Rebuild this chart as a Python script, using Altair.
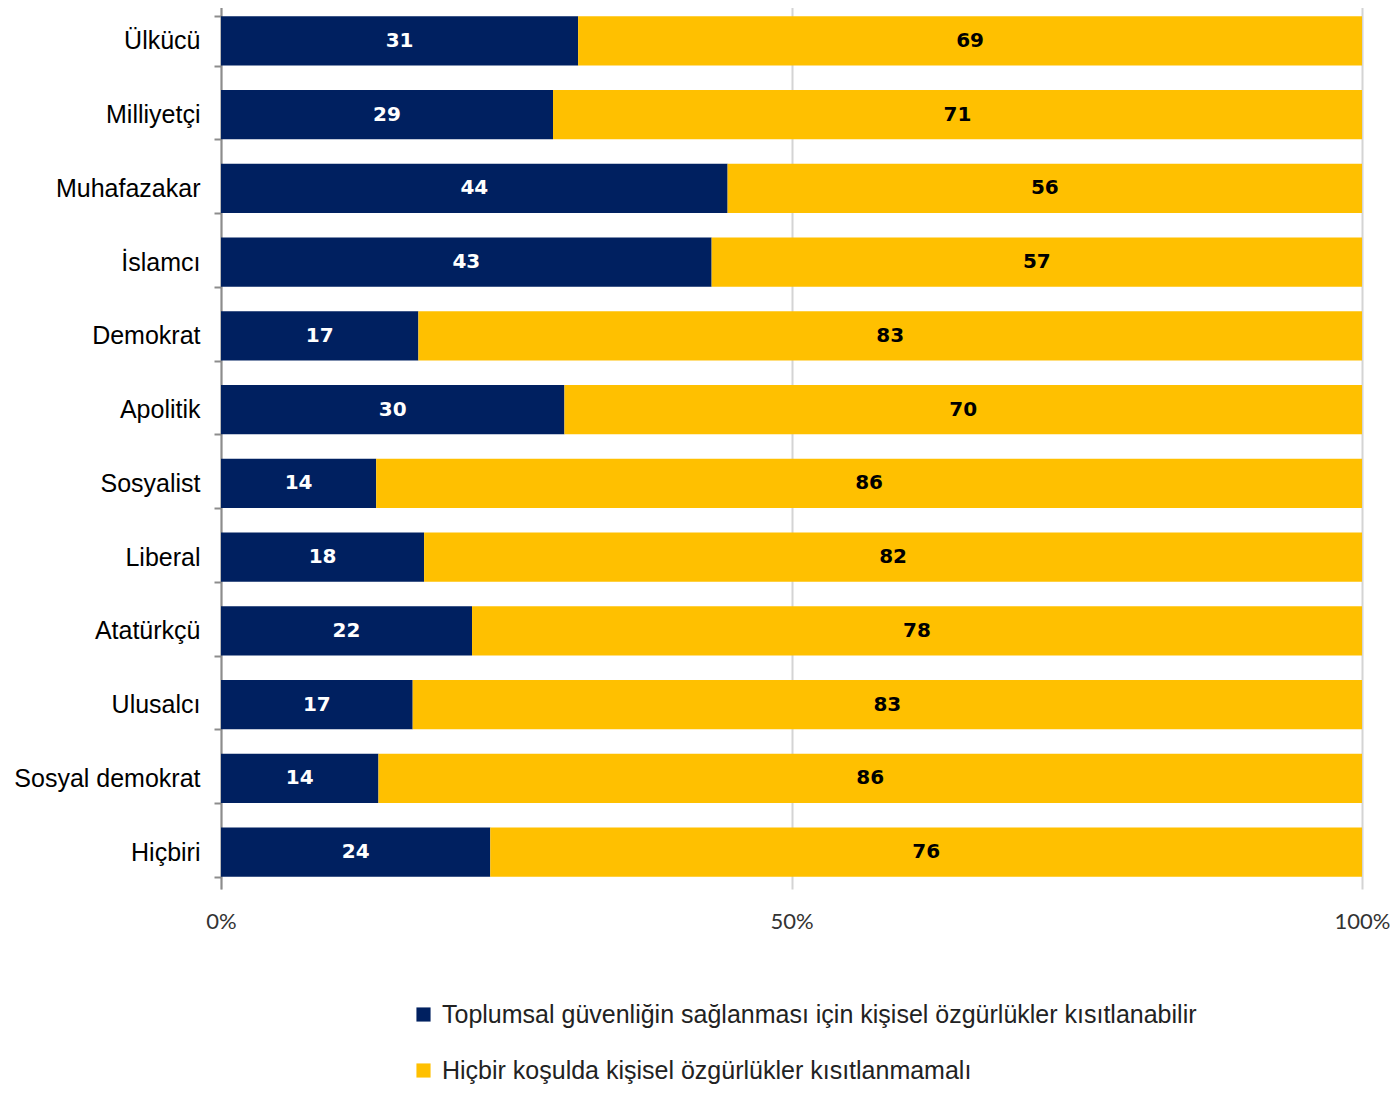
import altair as alt
import pandas as pd

categories = ["Ülkücü", "Milliyetçi", "Muhafazakar", "İslamcı", "Demokrat", "Apolitik",
              "Sosyalist", "Liberal", "Atatürkçü", "Ulusalcı", "Sosyal demokrat", "Hiçbiri"]
share_restrict = [31.3, 29.1, 44.4, 43.0, 17.3, 30.1, 13.6, 17.8, 22.0, 16.8, 13.8, 23.6]
share_never = [68.7, 70.9, 55.6, 57.0, 82.7, 69.9, 86.4, 82.2, 78.0, 83.2, 86.2, 76.4]
labels_restrict = [31, 29, 44, 43, 17, 30, 14, 18, 22, 17, 14, 24]
labels_never = [69, 71, 56, 57, 83, 70, 86, 82, 78, 83, 86, 76]
series = ["Toplumsal güvenliğin sağlanması için kişisel özgürlükler kısıtlanabilir",
          "Hiçbir koşulda kişisel özgürlükler kısıtlanmamalı"]
colors = ["#002060", "#FFC000"]
text_colors = ["#FFFFFF", "#000000"]

rows = []
for i, c in enumerate(categories):
    a = share_restrict[i]
    b = share_never[i]
    rows.append(dict(cat=c, series=series[0], start=0.0, end=a, mid=a / 2,
                     label=str(labels_restrict[i]), tcol=text_colors[0], ord=0))
    rows.append(dict(cat=c, series=series[1], start=a, end=a + b, mid=a + b / 2,
                     label=str(labels_never[i]), tcol=text_colors[1], ord=1))
df = pd.DataFrame(rows)

y_enc = alt.Y("cat:N", sort=categories, title=None,
              scale=alt.Scale(paddingInner=0.33, paddingOuter=0.165),
              axis=alt.Axis(labelFont="Liberation Sans", labelFontSize=25, labelColor="#000000",
                            domainColor="#8c8c8c", domainWidth=2, tickColor="#8c8c8c",
                            tickWidth=2, tickSize=7, tickBand="extent", labelPadding=14,
                            labelLimit=400, grid=False))

x_scale = alt.Scale(domain=[0, 100], nice=False)
x_axis = alt.Axis(values=[0, 50, 100], labelExpr="datum.value + '%'", title=None,
                  labelFont="Lato", labelFontSize=22, labelColor="#333333",
                  domain=False, ticks=False, labelPadding=22, labelFlush=False,
                  grid=True, gridColor="#d4d4d4", gridWidth=2)

bars = alt.Chart(df).mark_bar(stroke=None).encode(
    y=y_enc,
    x=alt.X("start:Q", scale=x_scale, axis=x_axis),
    x2="end:Q",
    color=alt.Color("series:N", scale=alt.Scale(domain=series, range=colors),
                    legend=alt.Legend(title=None, orient="none", legendX=190, legendY=998,
                                      direction="vertical", symbolType="square",
                                      symbolSize=200, symbolStrokeWidth=0,
                                      labelFont="Liberation Sans", labelFontSize=25,
                                      labelColor="#222222", rowPadding=30, labelOffset=6,
                                      labelLimit=1000)),
    order=alt.Order("ord:Q"),
)

texts = alt.Chart(df).mark_text(font="DejaVu Sans", fontWeight="bold", fontSize=20,
                                baseline="middle", align="center").encode(
    y=alt.Y("cat:N", sort=categories),
    x=alt.X("mid:Q", scale=x_scale),
    text="label:N",
    color=alt.Color("tcol:N", scale=None),
)

chart = (bars + texts).properties(
    width=1141, height=885,
    padding={"left": 213, "top": -4, "right": 28, "bottom": 197},
    autosize=alt.AutoSizeParams(type="none"),
).configure_view(stroke=None)

chart.save("out.html", embed_options={"renderer": "svg", "actions": False})
